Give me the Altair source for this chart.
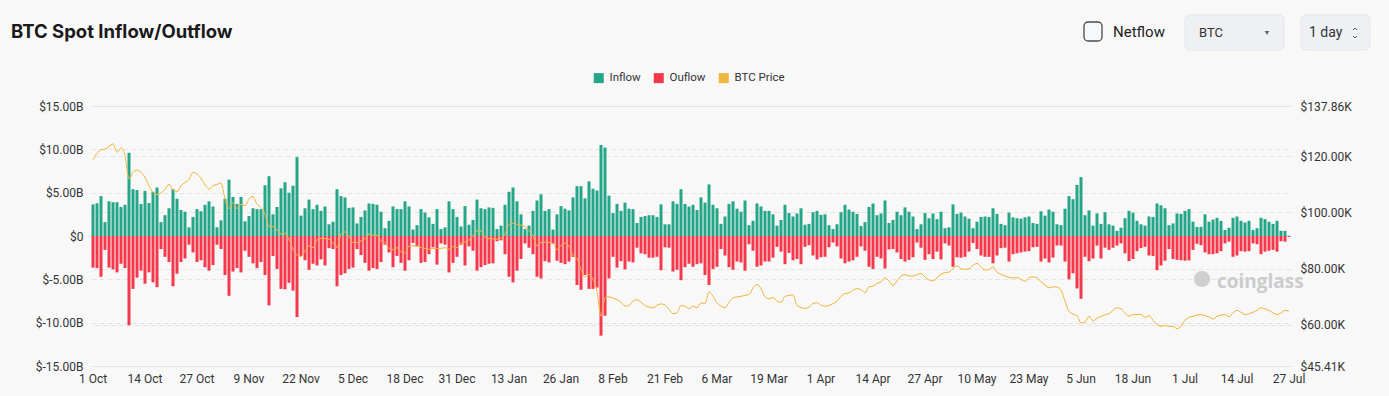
import datetime as dt
import altair as alt
import pandas as pd

# ---------------- data ----------------
inflow = [
    3.65, 3.77, 4.6, 1.6, 4.0, 3.9, 3.9, 3.35, 3.6, 9.6,
    5.4, 5.3, 3.7, 5.2, 3.8, 5.1, 5.6, 1.6, 2.4, 3.2,
    5.4, 4.3, 3.0, 2.8, 1.0, 2.2, 3.1, 2.85, 3.6, 4.0,
    3.4, 1.0, 1.8, 4.3, 6.5, 4.5, 3.7, 4.5, 1.7, 2.3,
    3.2, 3.1, 3.1, 5.85, 6.9, 2.5, 3.35, 5.5, 6.2, 5.0,
    5.8, 9.1, 2.35, 3.2, 4.2, 3.1, 3.6, 2.9, 3.4, 1.35,
    1.65, 5.4, 4.6, 4.45, 3.25, 3.3, 1.45, 2.2, 2.95, 3.75,
    3.7, 3.6, 2.8, 0.9, 1.75, 3.4, 3.1, 3.1, 4.0, 3.4,
    0.75, 1.25, 3.1, 2.7, 2.15, 1.4, 3.1, 0.8, 1.0, 4.0,
    3.1, 2.2, 1.1, 3.45, 1.3, 1.85, 4.2, 3.2, 3.1, 3.3,
    3.25, 0.8, 1.2, 3.6, 5.1, 5.6, 4.0, 2.5, 0.8, 1.2,
    2.9, 4.1, 4.8, 2.9, 3.1, 0.75, 2.5, 3.45, 3.15, 2.95,
    4.45, 5.75, 5.75, 4.35, 6.3, 5.45, 5.25, 10.5, 10.2, 4.65,
    2.65, 3.7, 2.9, 3.85, 3.15, 3.1, 1.5, 2.2, 2.3, 2.4,
    2.4, 2.2, 3.65, 1.35, 1.35, 4.0, 3.7, 5.4, 3.7, 3.4,
    3.6, 3.0, 4.45, 3.85, 5.95, 3.6, 3.2, 1.4, 2.25, 3.7,
    4.0, 3.15, 2.8, 4.1, 1.25, 1.75, 3.75, 3.4, 2.9, 2.9,
    2.5, 1.2, 1.85, 3.6, 2.65, 2.25, 2.6, 3.2, 1.3, 1.4,
    2.75, 2.9, 2.45, 2.5, 1.25, 0.8, 1.35, 2.75, 3.6, 3.05,
    2.8, 2.55, 1.15, 1.6, 3.35, 3.75, 2.4, 2.6, 4.1, 1.5,
    1.85, 2.8, 2.4, 3.3, 2.8, 2.25, 0.8, 1.35, 2.65, 2.05,
    2.6, 1.95, 2.8, 0.9, 1.0, 3.65, 2.55, 2.7, 2.25, 2.0,
    0.9, 1.65, 2.2, 2.25, 2.2, 3.2, 2.55, 1.4, 1.25, 2.7,
    2.15, 2.05, 2.0, 2.15, 2.25, 1.5, 1.4, 2.85, 2.35, 3.05,
    2.8, 1.35, 1.25, 3.15, 4.6, 4.25, 5.9, 6.8, 2.4, 2.95,
    1.2, 2.6, 1.4, 2.75, 1.35, 1.2, 0.6, 0.95, 2.05, 2.9,
    2.7, 1.75, 1.35, 1.2, 2.25, 2.2, 3.75, 3.55, 3.2, 1.25,
    1.45, 2.6, 2.55, 2.9, 3.1, 1.65, 1.05, 1.05, 2.5, 1.65,
    1.9, 2.1, 1.75, 0.7, 0.95, 2.1, 2.25, 1.75, 1.55, 1.75,
    0.7, 0.9, 2.1, 1.95, 1.65, 1.4, 1.75, 0.6, 0.6, 0.03,
]

outflow = [
    3.65, 3.7, 4.7, 1.6, 3.65, 3.85, 4.2, 3.2, 3.7, 10.3,
    6.1, 4.8, 4.0, 5.5, 4.2, 5.35, 5.9, 1.5, 2.4, 3.0,
    5.8, 4.35, 3.0, 2.6, 1.0, 1.9, 3.0, 2.8, 3.6, 4.0,
    3.35, 1.0, 1.5, 4.5, 6.9, 4.1, 3.7, 4.2, 1.7, 2.4,
    3.15, 3.7, 3.0, 4.5, 8.0, 2.3, 3.8, 6.1, 6.15, 5.4,
    6.3, 9.35, 2.3, 2.8, 3.9, 3.2, 3.4, 2.7, 3.4, 1.4,
    1.5, 5.8, 4.5, 4.3, 3.8, 3.65, 1.5, 2.2, 3.1, 4.0,
    3.7, 3.8, 3.0, 1.0, 1.9, 3.6, 2.3, 3.1, 4.0, 2.8,
    0.8, 1.2, 3.1, 3.0, 2.1, 1.3, 3.3, 0.85, 1.0, 4.2,
    3.1, 2.4, 1.0, 3.4, 1.2, 1.7, 4.0, 3.6, 3.35, 3.2,
    3.15, 0.6, 0.5, 2.1, 4.7, 5.35, 4.0, 2.65, 0.85, 1.35,
    2.1, 4.7, 4.9, 2.9, 3.05, 0.9, 2.85, 3.1, 3.25, 2.95,
    2.4, 5.65, 6.2, 4.5, 6.1, 6.1, 5.95, 11.5, 9.2, 4.9,
    2.4, 3.65, 2.9, 3.85, 2.95, 3.05, 1.35, 2.0, 2.1, 2.5,
    2.5, 2.4, 3.95, 1.3, 1.35, 4.1, 3.9, 5.1, 3.6, 3.2,
    3.55, 3.25, 3.15, 4.5, 5.65, 3.8, 3.55, 1.5, 2.25, 3.6,
    3.9, 2.95, 3.05, 4.0, 0.95, 1.7, 3.55, 3.4, 2.95, 2.95,
    2.5, 1.25, 1.8, 3.25, 1.95, 2.8, 2.65, 3.25, 1.25, 1.05,
    2.25, 2.7, 2.45, 2.4, 1.3, 0.75, 1.2, 2.6, 3.15, 2.95,
    2.8, 2.4, 1.2, 1.7, 3.55, 3.8, 2.4, 2.6, 3.75, 1.55,
    1.5, 1.9, 2.65, 2.95, 2.75, 2.45, 0.75, 1.35, 2.75, 2.1,
    2.65, 1.8, 2.7, 0.85, 1.1, 3.55, 2.45, 2.5, 2.4, 1.8,
    0.8, 1.5, 2.25, 2.4, 2.4, 3.15, 2.25, 1.4, 1.35, 2.95,
    2.1, 2.0, 1.9, 1.8, 1.75, 1.3, 1.25, 2.95, 2.6, 3.05,
    2.5, 1.1, 1.1, 2.95, 5.0, 4.3, 6.05, 7.25, 2.4, 2.9,
    2.6, 1.1, 2.6, 1.35, 1.6, 1.35, 1.1, 0.85, 2.0, 2.9,
    2.65, 1.75, 1.4, 1.25, 2.25, 2.3, 3.95, 3.4, 2.85, 1.5,
    2.65, 2.75, 2.8, 2.85, 2.8, 1.6, 0.9, 1.05, 1.9, 2.1,
    2.1, 2.0, 1.75, 0.85, 0.65, 2.4, 2.25, 1.75, 1.8, 1.75,
    0.85, 0.95, 2.1, 1.8, 1.7, 1.6, 1.8, 0.6, 0.65, 0.1,
]

price = [
    118.8, 121.0, 122.3, 122.5, 123.5, 124.4, 121.4, 123.0, 120.2, 111.9,
    114.3, 115.1, 114.3, 112.5, 109.5, 107.1, 106.4, 106.9, 108.3, 110.0,
    108.1, 107.4, 109.5, 110.7, 111.7, 114.3, 113.7, 112.2, 109.8, 108.3,
    109.5, 110.0, 110.5, 104.8, 101.4, 103.6, 101.4, 102.9, 102.4, 104.8,
    105.7, 103.0, 101.8, 99.4, 95.0, 95.0, 93.8, 92.3, 92.6, 90.5,
    86.9, 84.9, 84.3, 86.3, 88.1, 87.5, 90.2, 90.8, 90.7, 90.5,
    89.1, 87.5, 92.3, 93.1, 91.5, 89.3, 89.3, 89.9, 90.7, 92.3,
    91.9, 91.9, 89.9, 89.3, 87.2, 86.7, 87.5, 86.0, 85.5, 88.1,
    88.1, 88.1, 87.5, 87.2, 86.9, 87.2, 87.2, 87.2, 87.5, 86.9,
    87.9, 87.5, 89.1, 89.5, 90.2, 91.5, 93.5, 93.4, 91.3, 90.7,
    90.6, 90.5, 90.8, 92.3, 95.8, 96.2, 95.7, 95.5, 95.0, 93.5,
    91.7, 88.1, 89.3, 89.5, 89.3, 89.1, 86.7, 88.3, 89.1, 88.1,
    84.8, 83.6, 79.8, 77.0, 78.0, 76.2, 72.0, 63.1, 69.6, 70.0,
    69.6, 69.0, 68.1, 66.7, 66.9, 68.5, 69.0, 68.1, 66.9, 66.4,
    66.1, 67.0, 67.5, 67.1, 65.5, 64.0, 64.3, 66.9, 66.7, 65.8,
    66.7, 66.1, 67.9, 67.6, 71.8, 70.2, 67.9, 66.7, 66.1, 68.1,
    69.6, 70.0, 70.2, 70.5, 70.8, 73.2, 74.4, 72.9, 70.0, 69.3,
    69.8, 68.5, 68.1, 70.2, 70.5, 70.7, 66.9, 66.2, 65.9, 66.3,
    67.6, 67.9, 67.0, 66.7, 66.9, 67.6, 68.5, 70.2, 71.2, 71.4,
    72.4, 72.9, 72.6, 71.4, 73.6, 73.8, 74.8, 75.3, 76.8, 75.6,
    74.0, 75.6, 77.4, 77.9, 77.4, 77.4, 77.9, 78.3, 77.0, 76.0,
    75.7, 76.8, 78.0, 78.6, 78.8, 80.1, 81.0, 80.0, 79.8, 80.0,
    81.2, 81.9, 80.7, 79.5, 79.8, 80.7, 78.8, 78.0, 77.4, 76.9,
    76.7, 76.9, 76.2, 75.6, 76.8, 77.1, 76.8, 75.3, 74.2, 73.2,
    73.6, 73.5, 72.4, 68.5, 64.9, 63.9, 63.3, 60.7, 61.0, 63.1,
    61.5, 62.4, 63.1, 63.6, 64.0, 65.2, 66.1, 65.8, 64.3, 63.1,
    63.7, 63.7, 63.7, 62.7, 63.3, 61.7, 60.1, 59.5, 59.8, 59.5,
    59.5, 58.7, 59.5, 61.7, 62.7, 63.1, 63.5, 63.7, 63.3, 62.9,
    62.1, 63.1, 63.5, 63.7, 62.9, 64.3, 65.2, 64.5, 63.7, 64.0,
    64.5, 65.2, 66.1, 65.7, 65.2, 64.3, 63.7, 64.3, 65.2, 64.9,
]

month_names = ["Jan", "Feb", "Mar", "Apr", "May", "Jun",
               "Jul", "Aug", "Sep", "Oct", "Nov", "Dec"]
start = dt.date(2025, 10, 1)
days = [start + dt.timedelta(days=i) for i in range(len(inflow))]
day_labels = [f"{d.day} {month_names[d.month - 1]}" for d in days]
tick_labels = day_labels[::13]

series_names = ["Inflow", "Ouflow", "BTC Price"]
series_colors = ["#26a688", "#f5384b", "#efb73e"]

left_ticks = [-15, -10, -5, 0, 5, 10, 15]
right_ticks = [45.41, 60, 80, 100, 120, 137.86]

n = len(inflow)
flows = pd.DataFrame({
    "day": day_labels * 2,
    "type": ["Inflow"] * n + ["Ouflow"] * n,
    "value": inflow + [-v for v in outflow],
})
prices = pd.DataFrame({"day": day_labels, "price": price})

# ---------------- layout constants ----------------
PAD_L, PAD_T = 91, 106
W, H = 1200, 260
FONT = "Roboto"

x_enc = alt.X(
    "day:O", sort=day_labels,
    scale=alt.Scale(domain=day_labels, paddingInner=0.25, paddingOuter=0.125),
    axis=alt.Axis(values=tick_labels, title=None, labelAngle=0, ticks=False,
                  domain=False, grid=False, labelFontSize=12, labelFont=FONT,
                  labelColor="#333333", labelPadding=7),
)

bars = alt.Chart(flows).mark_bar().encode(
    x=x_enc,
    y=alt.Y("value:Q",
            scale=alt.Scale(domain=[-15, 15], nice=False),
            axis=alt.Axis(values=left_ticks, title=None, orient="left",
                          ticks=False, domain=False, grid=True,
                          gridColor="#e4e4e4", gridDash=[5, 3],
                          labelFontSize=12, labelFont=FONT,
                          labelColor="#333333", labelPadding=8,
                          labelExpr="datum.value == 0 ? '$0' : '$' + (datum.value < 0 ? '-' : '') + format(abs(datum.value), '.2f') + 'B'")),
    color=alt.Color("type:N",
                    scale=alt.Scale(domain=series_names, range=series_colors),
                    legend=alt.Legend(orient="none", legendX=502, legendY=-34,
                                      direction="horizontal", title=None,
                                      symbolType="square", symbolSize=100,
                                      symbolOpacity=1, symbolStrokeWidth=0,
                                      labelFontSize=11.5, labelFont=FONT,
                                      labelColor="#333333", labelOffset=5,
                                      columnPadding=12)),
)

line = alt.Chart(prices).mark_line(
    color=series_colors[2], strokeWidth=1.0, interpolate="monotone"
).encode(
    x=alt.X("day:O", sort=day_labels),
    y=alt.Y("price:Q",
            scale=alt.Scale(domain=[45.41, 137.86], nice=False, zero=False),
            axis=alt.Axis(values=right_ticks, title=None, orient="right",
                          ticks=False, domain=False, grid=True,
                          gridColor="#e4e4e4", gridDash=[5, 3],
                          labelFontSize=12, labelFont=FONT,
                          labelColor="#333333", labelPadding=9,
                          labelExpr="'$' + format(datum.value, '.2f') + 'K'")),
)


def px(v, origin):
    return alt.value(v - origin)


def label(text, x, y, size, color="#222222", weight="normal", font=FONT, align="left"):
    return alt.Chart(pd.DataFrame({"t": [text]})).mark_text(
        align=align, baseline="middle", fontSize=size, fontWeight=weight,
        font=font, color=color
    ).encode(text="t:N", x=px(x, PAD_L), y=px(y, PAD_T))


def box(x1, y1, x2, y2, fill, stroke, sw=1, r=4):
    return alt.Chart(pd.DataFrame({"k": [0]})).mark_rect(
        fill=fill, stroke=stroke, strokeWidth=sw, cornerRadius=r
    ).encode(x=px(x1, PAD_L), x2=px(x2, PAD_L), y=px(y1, PAD_T), y2=px(y2, PAD_T))


title = label("BTC Spot Inflow/Outflow", 11, 32, 18.5, "#1a1a1a", "bold", "Inter")
checkbox = box(1084, 22, 1102, 41, "#f7f8fa", "#4a4a4a", 1.3, 4)
netflow = label("Netflow", 1113, 32, 15, "#222222")
btc_box = box(1185, 15, 1284, 50, "#eef0f4", "#e3e6eb", 1, 5)
btc_txt = label("BTC", 1199, 33, 13, "#333333")
caret = alt.Chart(pd.DataFrame({"k": [0]})).mark_point(
    shape="triangle-down", filled=True, color="#666666", size=22, opacity=1
).encode(x=px(1267, PAD_L), y=px(33, PAD_T))
day_box = box(1301, 15, 1370, 50, "#eef0f4", "#e3e6eb", 1, 5)
day_txt = label("1 day", 1309, 33, 14, "#333333")
chev_up = alt.Chart(pd.DataFrame({"k": [0]})).mark_point(
    shape="M-0.7,0.35L0,-0.35L0.7,0.35", filled=False, color="#555555",
    size=30, strokeWidth=1, opacity=1
).encode(x=px(1355, PAD_L), y=px(29, PAD_T))
chev_dn = alt.Chart(pd.DataFrame({"k": [0]})).mark_point(
    shape="M-0.7,-0.35L0,0.35L0.7,-0.35", filled=False, color="#555555",
    size=30, strokeWidth=1, opacity=1
).encode(x=px(1355, PAD_L), y=px(37, PAD_T))

logo = alt.Chart(pd.DataFrame({"k": [0]})).mark_point(
    shape="circle", filled=True, color="#cfcfcf", size=260, opacity=1
).encode(x=px(1202, PAD_L), y=px(279, PAD_T))
watermark = label("coinglass", 1217, 282, 19, "#cccccc", "bold", "Open Sans")

chart = alt.layer(
    logo, watermark, bars, line,
    title, checkbox, netflow, btc_box, btc_txt, caret, day_box, day_txt,
    chev_up, chev_dn,
).resolve_scale(
    y="independent"
).properties(
    width=W, height=H,
    autosize=alt.AutoSizeParams(type="none"),
    padding={"left": PAD_L, "top": PAD_T, "right": 1389 - PAD_L - W,
             "bottom": 396 - PAD_T - H},
    background="#f8f8f8",
).configure_view(stroke=None)

chart.save("out.html", embed_options={"renderer": "svg", "actions": False})
